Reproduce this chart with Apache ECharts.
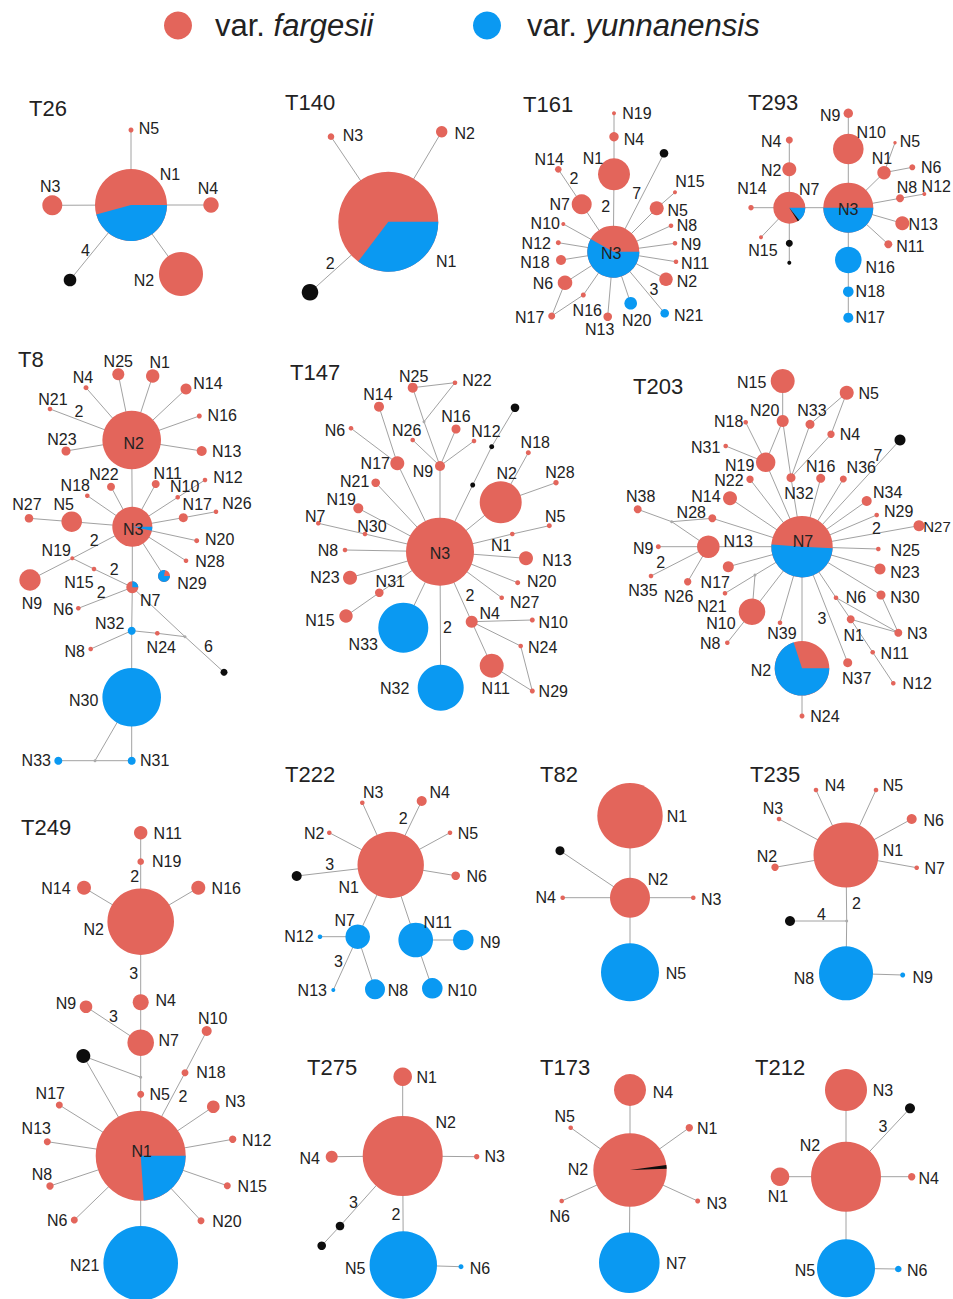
<!DOCTYPE html>
<html>
<head>
<meta charset="utf-8">
<script src="https://cdn.jsdelivr.net/npm/echarts@6/dist/echarts.min.js"></script>
<style>
  html, body { margin: 0; padding: 0; background: #ffffff; }
  #chart { width: 953px; height: 1299px; }
</style>
</head>
<body>
<div id="chart"></div>
<script>
// ---------------------------------------------------------------
// Haplotype networks of 14 loci, two varieties.
// Node record: [id, x, y, size, share]
//   share: 'f' fargesii, 'y' yunnanensis, 'm' missing haplotype,
//          'v' median vector, or [fargesii, yunnanensis, missing] fractions
// Link record: [from, to, mutationSteps]
// ---------------------------------------------------------------
const networkNames = ['T26', 'T140', 'T161', 'T293', 'T8', 'T147', 'T203',
  'T249', 'T222', 'T82', 'T235', 'T275', 'T173', 'T212'];
const varieties = ['fargesii', 'yunnanensis'];

const T26_nodes = [
  ['N1', 131, 205, 36, [0.542, 0.458, 0]], ['N2', 181, 274, 22, 'f'],
  ['N3', 52.3, 205.3, 10, 'f'], ['N4', 211, 205, 7.7, 'f'],
  ['N5', 131, 130, 2.5, 'f'], ['m1', 70, 280, 6.3, 'm']
];
const T26_links = [['N1', 'N5'], ['N1', 'N3'], ['N1', 'N4'], ['N1', 'N2'], ['N1', 'm1', 4]];

const T140_nodes = [
  ['N1', 388.3, 221.7, 50, [0.647, 0.353, 0]], ['N2', 441.7, 131.7, 5.7, 'f'],
  ['N3', 331, 136.7, 3.3, 'f'], ['m1', 310, 292.3, 8.3, 'm']
];
const T140_links = [['N1', 'N2'], ['N1', 'N3'], ['N1', 'm1', 2]];

const T161_nodes = [
  ['N1', 614, 174.3, 16, 'f'], ['N2', 666, 279.3, 6.7, 'f'],
  ['N3', 613.3, 251.7, 26, [0.419, 0.581, 0]], ['N4', 614, 136.7, 4.7, 'f'],
  ['N5', 656.7, 208.3, 7, 'f'], ['N6', 565, 282.7, 7.3, 'f'],
  ['N7', 581.7, 204.3, 10, 'f'], ['N8', 671, 225.7, 2.3, 'f'],
  ['N9', 675, 243.3, 2.3, 'f'], ['N10', 563.3, 224, 2, 'f'],
  ['N11', 676, 261.7, 2.3, 'f'], ['N12', 558.3, 242.7, 2.5, 'f'],
  ['N13', 607.7, 316.7, 4.3, 'f'], ['N14', 558.3, 169.3, 3.3, 'f'],
  ['N15', 675, 192.3, 2, 'f'], ['N16', 583.3, 295, 2.5, 'f'],
  ['N17', 551.7, 316, 3.5, 'f'], ['N18', 561, 260, 5, 'f'],
  ['N19', 614, 113.3, 2, 'f'], ['N20', 630.7, 303.3, 6.3, 'y'],
  ['N21', 664.7, 313.3, 4.3, 'y'], ['m1', 664, 153.3, 4.3, 'm']
];
const T161_links = [
  ['N3', 'N1', 2], ['N1', 'N4'], ['N4', 'N19'], ['N3', 'N7'], ['N7', 'N14', 2],
  ['N3', 'm1', 7], ['N3', 'N5'], ['N5', 'N15'], ['N3', 'N8'], ['N3', 'N9'],
  ['N3', 'N11'], ['N3', 'N2'], ['N3', 'N21', 3], ['N3', 'N20'], ['N3', 'N13'],
  ['N3', 'N16'], ['N16', 'N17'], ['N3', 'N6'], ['N6', 'N17'], ['N3', 'N18'],
  ['N3', 'N12'], ['N3', 'N10']
];

const T293_nodes = [
  ['N1', 884, 172.7, 6.7, 'f'], ['N2', 789.3, 169.3, 7, 'f'],
  ['N3', 848.3, 207.7, 25, [0.5, 0.5, 0]], ['N4', 789.3, 140, 3.5, 'f'],
  ['N5', 895, 142.7, 1.7, 'f'], ['N6', 912.3, 167.3, 3, 'f'],
  ['N7', 789.3, 207.7, 16, [0.839, 0.144, 0.017]], ['N8', 900, 198.3, 4, 'f'],
  ['N9', 848.3, 113.3, 4.7, 'f'], ['N10', 848.3, 149, 15.3, 'f'],
  ['N11', 888.3, 244.3, 4, 'f'], ['N12', 924.3, 194, 2, 'f'],
  ['N13', 902.3, 223.3, 7, 'f'], ['N14', 751, 207.7, 2.7, 'f'],
  ['N15', 761, 237.3, 2, 'f'], ['N16', 848.3, 260, 13.3, 'y'],
  ['N17', 848.3, 317.7, 5, 'y'], ['N18', 848.3, 291.7, 5.3, 'y'],
  ['m1', 789.3, 243.3, 3.5, 'm'], ['m2', 789.3, 262.7, 2, 'm']
];
const T293_links = [
  ['N3', 'N10'], ['N10', 'N9'], ['N3', 'N16'], ['N16', 'N18'], ['N18', 'N17'],
  ['N3', 'N1'], ['N1', 'N5'], ['N1', 'N6'], ['N3', 'N8'], ['N8', 'N12'],
  ['N3', 'N13'], ['N3', 'N11'], ['N3', 'N7'], ['N7', 'N2'], ['N2', 'N4'],
  ['N7', 'N14'], ['N7', 'N15'], ['N7', 'm1'], ['m1', 'm2']
];

const T8_nodes = [
  ['N1', 152.7, 376, 6.7, 'f'], ['N2', 131.7, 440, 29.3, 'f'],
  ['N3', 132.3, 526.7, 20, [0.967, 0.033, 0]], ['N4', 86, 387.7, 2.5, 'f'],
  ['N5', 71.7, 521.7, 10.3, 'f'], ['N6', 78.3, 608.3, 2.3, 'f'],
  ['N7', 132.3, 587.3, 6, [0.75, 0.25, 0]], ['N8', 90.7, 649, 2.3, 'f'],
  ['N9', 30, 580, 10.7, 'f'], ['N10', 177.7, 497.3, 2.3, 'f'],
  ['N11', 155.7, 484, 4, 'f'], ['N12', 205, 480, 2.3, 'f'],
  ['N13', 201.7, 451, 5, 'f'], ['N14', 186, 389, 5.5, 'f'],
  ['N15', 94, 569, 2.3, 'f'], ['N16', 199.3, 416, 2.5, 'f'],
  ['N17', 183.3, 517.7, 4.5, 'f'], ['N18', 87.3, 495.7, 2.3, 'f'],
  ['N19', 72.3, 558.3, 2, 'f'], ['N20', 196.7, 540.7, 2.5, 'f'],
  ['N21', 50, 409, 2.3, 'f'], ['N22', 111, 486.7, 4, 'f'],
  ['N23', 66, 451, 4.5, 'f'], ['N24', 157.3, 633.3, 2.3, 'f'],
  ['N25', 118.3, 374.3, 6, 'f'], ['N26', 216, 511.7, 2.3, 'f'],
  ['N27', 29, 518.3, 4.3, 'f'], ['N28', 186, 560.7, 2.3, 'f'],
  ['N29', 164, 576, 6, [0.22, 0.78, 0]], ['N30', 131.7, 697.3, 29.3, 'y'],
  ['N31', 131.7, 760.7, 4, 'y'], ['N32', 131.7, 630.7, 4, 'y'],
  ['N33', 58.3, 760.7, 4, 'y'], ['m1', 224, 672.3, 3.5, 'm'],
  ['v1', 95, 760.7, 1.5, 'v'], ['v2', 185, 636.7, 1.5, 'v']
];
const T8_links = [
  ['N2', 'N25'], ['N2', 'N1'], ['N2', 'N14'], ['N2', 'N16'], ['N2', 'N13'],
  ['N2', 'N23'], ['N2', 'N21', 2], ['N2', 'N4'], ['N2', 'N3'],
  ['N3', 'N22'], ['N3', 'N18'], ['N3', 'N11'], ['N3', 'N10'], ['N10', 'N12'],
  ['N3', 'N17'], ['N17', 'N26'], ['N3', 'N20'], ['N3', 'N28'], ['N3', 'N29'],
  ['N3', 'N5'], ['N5', 'N27'], ['N3', 'N19', 2], ['N19', 'N9'], ['N19', 'N15'],
  ['N15', 'N7', 2], ['N3', 'N7'], ['N7', 'N6', 2], ['N7', 'N32'], ['N32', 'N8'],
  ['N32', 'N24'], ['N24', 'v2'], ['N7', 'v2'], ['v2', 'm1', 6], ['N32', 'N30'],
  ['N30', 'N31'], ['N31', 'v1'], ['v1', 'N33'], ['v1', 'N30']
];

const T147_nodes = [
  ['N1', 512.3, 534, 2.3, 'f'], ['N2', 500.7, 502.3, 21, 'f'],
  ['N3', 440, 551.7, 34, 'f'], ['N4', 471.7, 621.7, 6, 'f'],
  ['N5', 549.3, 525.7, 2.5, 'f'], ['N6', 351, 428.3, 2.3, 'f'],
  ['N7', 318.3, 523.3, 2.3, 'f'], ['N8', 345, 550, 2.3, 'f'],
  ['N9', 440, 466, 5, 'f'], ['N10', 532.3, 620, 2.5, 'f'],
  ['N11', 491.7, 665.7, 12, 'f'], ['N12', 474, 441, 2.3, 'f'],
  ['N13', 526, 558.3, 7, 'f'], ['N14', 379, 406.7, 5, 'f'],
  ['N15', 346, 616, 6.7, 'f'], ['N16', 456, 429, 4.5, 'f'],
  ['N17', 397.3, 463.3, 7, 'f'], ['N18', 528.3, 452.7, 2.5, 'f'],
  ['N19', 358.3, 508.3, 5, 'f'], ['N20', 517.7, 582.7, 2.5, 'f'],
  ['N21', 375.7, 482.7, 4.3, 'f'], ['N22', 455, 382.7, 2.3, 'f'],
  ['N23', 350, 577.7, 7, 'f'], ['N24', 520.7, 646, 2.3, 'f'],
  ['N25', 412.7, 387.7, 5, 'f'], ['N26', 412.7, 440, 2.3, 'f'],
  ['N27', 501.7, 597.7, 2.3, 'f'], ['N28', 556, 482.7, 2.7, 'f'],
  ['N29', 532.3, 691, 2.5, 'f'], ['N30', 365, 534, 2.3, 'f'],
  ['N31', 379.3, 592.7, 4.3, 'f'], ['N32', 440.7, 687.7, 23, 'y'],
  ['N33', 403.3, 627.7, 25, 'y'], ['m1', 472.7, 485, 2.5, 'm'],
  ['m2', 491.7, 446.7, 2.5, 'm'], ['m3', 515, 407.7, 4.3, 'm'],
  ['v1', 424, 421.7, 1.5, 'v']
];
const T147_links = [
  ['N3', 'N9'], ['N9', 'N16'], ['N9', 'N12'], ['N9', 'N26'], ['N9', 'v1'],
  ['v1', 'N25'], ['v1', 'N22'], ['N25', 'N22'], ['N3', 'N17'], ['N17', 'N14'],
  ['N17', 'N6'], ['N3', 'N21'], ['N3', 'N19'], ['N3', 'N30'], ['N30', 'N7'],
  ['N3', 'N8'], ['N3', 'N23'], ['N3', 'N31'], ['N31', 'N15'], ['N3', 'N33'],
  ['N3', 'N32', 2], ['N3', 'N4', 2], ['N4', 'N10'], ['N4', 'N24'], ['N4', 'N11'],
  ['N11', 'N29'], ['N24', 'N29'], ['N3', 'N27'], ['N3', 'N20'], ['N3', 'N13'],
  ['N3', 'N1'], ['N1', 'N5'], ['N3', 'N2'], ['N2', 'N18'], ['N2', 'N28'],
  ['N3', 'm1'], ['m1', 'm2'], ['m2', 'm3']
];

const T203_nodes = [
  ['N1', 850.7, 619.3, 4, 'f'], ['N2', 802, 668.3, 27.3, [0.3, 0.7, 0]],
  ['N3', 898.3, 632.7, 4, 'f'], ['N4', 831, 434.3, 3.7, 'f'],
  ['N5', 846.7, 392.7, 7, 'f'], ['N6', 836, 597.7, 2.3, 'f'],
  ['N7', 802, 546.7, 30.7, [0.497, 0.503, 0]], ['N8', 727.3, 642.7, 2.3, 'f'],
  ['N9', 658.3, 546.7, 2.5, 'f'], ['N10', 752, 611.7, 13.3, 'f'],
  ['N11', 872.7, 652.3, 2.3, 'f'], ['N12', 893.3, 683.3, 2.3, 'f'],
  ['N13', 708.3, 546.7, 11.3, 'f'], ['N14', 730, 498.3, 7, 'f'],
  ['N15', 782.7, 381, 12, 'f'], ['N16', 820.7, 478.3, 4.5, 'f'],
  ['N17', 728.3, 566.7, 5.5, 'f'], ['N18', 745.7, 422.3, 2.3, 'f'],
  ['N19', 765.7, 462.3, 9.7, 'f'], ['N20', 782.7, 421, 6, 'f'],
  ['N21', 725, 593.3, 2.3, 'f'], ['N22', 750, 479.3, 3.7, 'f'],
  ['N23', 880, 569, 5.5, 'f'], ['N24', 802, 716, 2.5, 'f'],
  ['N25', 878.3, 549, 2.3, 'f'], ['N26', 687.7, 581.7, 3.7, 'f'],
  ['N27', 919, 525.7, 5.5, 'f'], ['N28', 712.3, 518.3, 4, 'f'],
  ['N29', 876.7, 515, 2.3, 'f'], ['N30', 881, 595, 4.5, 'f'],
  ['N31', 725.7, 446, 2.3, 'f'], ['N32', 791, 477.7, 4.5, 'f'],
  ['N33', 810, 424.3, 4.5, 'f'], ['N34', 866.7, 501, 5, 'f'],
  ['N35', 651, 576, 2.3, 'f'], ['N36', 843.3, 479, 3.5, 'f'],
  ['N37', 847.7, 662.7, 4.5, 'f'], ['N38', 637.7, 509.3, 4, 'f'],
  ['N39', 780, 622.7, 2.3, 'f'], ['m1', 900, 440, 5.5, 'm'],
  ['v1', 755, 575, 1.5, 'v'], ['v2', 671.7, 521.7, 1.5, 'v']
];
const T203_links = [
  ['N15', 'N20'], ['N20', 'N19'], ['N19', 'N7'], ['N18', 'N19'], ['N31', 'N19'],
  ['N20', 'N32'], ['N32', 'N7'], ['N32', 'N33'], ['N33', 'N5'], ['N32', 'N4'],
  ['N4', 'N5'], ['N7', 'N16'], ['N7', 'N36'], ['N7', 'm1', 7], ['N7', 'N34'],
  ['N7', 'N29'], ['N7', 'N27', 2], ['N7', 'N25'], ['N7', 'N23'], ['N7', 'N30'],
  ['N30', 'N3'], ['N7', 'N6'], ['N6', 'N1'], ['N1', 'N11'], ['N11', 'N12'],
  ['N1', 'N3'], ['N6', 'N3'], ['N7', 'N37', 3], ['N7', 'N2'], ['N2', 'N24'],
  ['N7', 'N39'], ['N7', 'v1'], ['v1', 'N21'], ['v1', 'N10'], ['N7', 'N10'],
  ['N10', 'N8'], ['N7', 'N17'], ['N7', 'N13'], ['N13', 'N9'], ['N13', 'N35', 2],
  ['N13', 'N26'], ['v2', 'N13'], ['v2', 'N38'], ['v2', 'N28'], ['N28', 'N7'],
  ['N7', 'N14'], ['N7', 'N22']
];

const T249_nodes = [
  ['N1', 140.7, 1155.7, 45, [0.761, 0.239, 0]], ['N2', 140.7, 921.7, 33.3, 'f'],
  ['N3', 213.3, 1106.7, 6.3, 'f'], ['N4', 140.7, 1002.3, 8, 'f'],
  ['N5', 140.7, 1094.3, 3.5, 'f'], ['N6', 74.3, 1220, 3.5, 'f'],
  ['N7', 140.7, 1042.7, 13.3, 'f'], ['N8', 50, 1186, 3.7, 'f'],
  ['N9', 86, 1006.7, 6.3, 'f'], ['N10', 206.7, 1031, 5, 'f'],
  ['N11', 140.7, 832.7, 6.7, 'f'], ['N12', 232.7, 1139.3, 3.7, 'f'],
  ['N13', 47.3, 1141.7, 3.5, 'f'], ['N14', 84, 887.7, 7, 'f'],
  ['N15', 227.3, 1185.7, 3.5, 'f'], ['N16', 198.3, 887.7, 7, 'f'],
  ['N17', 59.3, 1105, 3.5, 'f'], ['N18', 185, 1072.7, 3.5, 'f'],
  ['N19', 140.7, 861.7, 3.3, 'f'], ['N20', 201, 1220.7, 3.5, 'f'],
  ['N21', 140.7, 1263.3, 37.3, 'y'], ['m1', 83.3, 1056, 7, 'm'],
  ['v1', 140.7, 1077.3, 1.5, 'v']
];
const T249_links = [
  ['N11', 'N19'], ['N19', 'N2', 2], ['N2', 'N14'], ['N2', 'N16'], ['N2', 'N4', 3],
  ['N4', 'N7'], ['N7', 'N9', 3], ['N7', 'v1'], ['v1', 'm1'], ['v1', 'N5'],
  ['N5', 'N1'], ['m1', 'N1'], ['N1', 'N18', 2], ['N18', 'N10'], ['N1', 'N3'],
  ['N1', 'N12'], ['N1', 'N15'], ['N1', 'N20'], ['N1', 'N6'], ['N1', 'N8'],
  ['N1', 'N13'], ['N1', 'N17'], ['N1', 'N21']
];

const T222_nodes = [
  ['N1', 390.7, 865, 33.2, 'f'], ['N2', 329.3, 832.7, 2.3, 'f'],
  ['N3', 362.3, 802.7, 2.3, 'f'], ['N4', 421.7, 801, 5, 'f'],
  ['N5', 450, 832.7, 2.3, 'f'], ['N6', 455.7, 875.7, 4.3, 'f'],
  ['N7', 357.7, 936.7, 12.3, 'y'], ['N8', 375, 989.3, 10, 'y'],
  ['N9', 463.3, 940, 10.3, 'y'], ['N10', 432.3, 988.3, 10.3, 'y'],
  ['N11', 415.7, 940, 17.3, 'y'], ['N12', 320, 936.7, 2.3, 'y'],
  ['N13', 333.3, 990, 2, 'y'], ['m1', 296.7, 876, 5, 'm']
];
const T222_links = [
  ['N1', 'N2'], ['N1', 'N3'], ['N1', 'N4', 2], ['N1', 'N5'], ['N1', 'N6'],
  ['N1', 'm1', 3], ['N1', 'N7'], ['N1', 'N11'], ['N7', 'N12'], ['N7', 'N13', 3],
  ['N7', 'N8'], ['N11', 'N9'], ['N11', 'N10']
];

const T82_nodes = [
  ['N1', 630, 815.7, 32.7, 'f'], ['N2', 630, 897.7, 20, 'f'],
  ['N3', 693.3, 897.7, 2.3, 'f'], ['N4', 562.7, 897.7, 2.3, 'f'],
  ['N5', 630, 972.3, 29, 'y'], ['m1', 560, 850.7, 4.5, 'm']
];
const T82_links = [['N1', 'N2'], ['N2', 'N5'], ['N2', 'N3'], ['N2', 'N4'], ['N2', 'm1']];

const T235_nodes = [
  ['N1', 846, 855, 32.5, 'f'], ['N2', 775, 867.3, 3.7, 'f'],
  ['N3', 779, 819, 2.3, 'f'], ['N4', 816, 790, 2.3, 'f'],
  ['N5', 876, 790, 2.3, 'f'], ['N6', 911.7, 819, 5, 'f'],
  ['N7', 916.7, 867.7, 2.3, 'f'], ['N8', 846, 973.3, 27, 'y'],
  ['N9', 902.7, 975, 2.5, 'y'], ['m1', 790, 921, 5, 'm'],
  ['v1', 846.7, 921, 1.5, 'v']
];
const T235_links = [
  ['N1', 'N2'], ['N1', 'N3'], ['N1', 'N4'], ['N1', 'N5'], ['N1', 'N6'], ['N1', 'N7'],
  ['N1', 'v1', 2], ['v1', 'm1', 4], ['v1', 'N8'], ['N8', 'N9']
];

const T275_nodes = [
  ['N1', 402.7, 1076.7, 9.3, 'f'], ['N2', 402.7, 1156, 40, 'f'],
  ['N3', 476.7, 1156.7, 2.7, 'f'], ['N4', 331.7, 1156.7, 6, 'f'],
  ['N5', 403.3, 1265, 33.7, 'y'], ['N6', 461, 1266.7, 2.5, 'y'],
  ['m1', 340, 1226, 4.3, 'm'], ['m2', 321.7, 1245.7, 4.3, 'm']
];
const T275_links = [
  ['N2', 'N1'], ['N2', 'N3'], ['N2', 'N4'], ['N2', 'm1', 3], ['m1', 'm2'],
  ['N2', 'N5', 2], ['N5', 'N6']
];

const T173_nodes = [
  ['N1', 689.3, 1127.7, 3.7, 'f'], ['N2', 630, 1170, 36.7, [0.983, 0, 0.017]],
  ['N3', 697.7, 1201, 2.5, 'f'], ['N4', 630, 1090, 16, 'f'],
  ['N5', 570.7, 1127.7, 2.3, 'f'], ['N6', 561.7, 1201, 2.3, 'f'],
  ['N7', 629.3, 1262.7, 30.3, 'y']
];
const T173_links = [['N2', 'N1'], ['N2', 'N3'], ['N2', 'N4'], ['N2', 'N5'], ['N2', 'N6'], ['N2', 'N7']];

const T212_nodes = [
  ['N1', 780, 1176.7, 9.3, 'f'], ['N2', 846, 1176.7, 35, 'f'],
  ['N3', 846, 1090, 21, 'f'], ['N4', 911.7, 1176.7, 3.7, 'f'],
  ['N5', 846, 1268.3, 29, 'y'], ['N6', 898.3, 1269, 3.3, 'y'],
  ['m1', 910, 1108.3, 5, 'm']
];
const T212_links = [['N2', 'N1'], ['N2', 'N3'], ['N2', 'N4'], ['N2', 'm1', 3], ['N2', 'N5'], ['N5', 'N6']];

// ---------------------------------------------------------------
// Styling: colours, fonts, label placement (pixel offsets from nodes)
// ---------------------------------------------------------------
const COLOR = { f: '#E3655B', y: '#0A99F2', m: '#0d0d0d', v: '#ababab' };
const EDGE_COLOR = '#a2a2a2';
const TEXT_COLOR = '#222222';
const FONT = "'Liberation Sans', Arial, Helvetica, sans-serif";
const LABEL_SIZE = 16;
const TITLE_SIZE = 22;
const LEGEND_SIZE = 31;

const titleAt = {
  T26: [29, 109], T140: [285, 103], T161: [523, 105], T293: [748, 103],
  T8: [18, 360], T147: [290, 373], T203: [633, 387], T249: [21, 828],
  T222: [285, 775], T82: [540, 775], T235: [750, 775], T275: [307, 1068],
  T173: [540, 1068], T212: [755, 1068]
};

// legend entries: icon left edge and gap between icon and text
const legendAt = [[164, 23], [473, 26]];

// first slice (yunnanensis) starts at this angle, clockwise, degrees
const pieStart = { 'T8:N7': 270, 'T203:N7': 3, 'T173:N2': 352 };

const labelShift = {
  T26: { N1: [39, -31], N2: [-37, 6], N3: [-2, -19], N4: [-3, -17], N5: [18, -2] },
  T140: { N1: [58, 40], N2: [23, 2], N3: [22, -1] },
  T161: { N1: [-21, -16], N2: [21, 2], N3: [-2, 2], N4: [20, 3], N5: [21, 2], N6: [-22, 1],
    N7: [-22, 0], N8: [16, 0], N9: [16, 1], N10: [-18, -1], N11: [19, 2], N12: [-22, 1],
    N13: [-8, 13], N14: [-9, -10], N15: [15, -11], N16: [4, 15], N17: [-22, 1], N18: [-26, 2],
    N19: [23, 0], N20: [6, 17], N21: [24, 2] },
  T293: { N1: [-2, -14], N2: [-18, 1], N3: [0, 2], N4: [-18, 1], N5: [15, -1], N6: [19, 0],
    N7: [20, -18], N8: [7, -11], N9: [-18, 2], N10: [23, -17], N11: [22, 2], N12: [12, -8],
    N13: [21, 1], N14: [1, -19], N15: [2, 13], N16: [32, 7], N17: [22, 0], N18: [22, 0] },
  T8: { N1: [7, -14], N2: [2, 3], N3: [1, 3], N4: [-3, -10], N5: [-8, -17], N6: [-15, 1],
    N7: [18, 13], N8: [-16, 2], N9: [2, 23], N10: [7, -11], N11: [12, -11], N12: [23, -3],
    N13: [25, 0], N14: [22, -6], N15: [-15, 13], N16: [23, -1], N17: [14, -13], N18: [-12, -10],
    N19: [-16, -8], N20: [23, -1], N21: [3, -10], N22: [-7, -12], N23: [-4, -12], N24: [4, 14],
    N25: [0, -13], N26: [21, -8], N27: [-2, -14], N28: [24, 1], N29: [28, 7], N30: [-48, 3],
    N31: [23, 0], N32: [-22, -7], N33: [-22, 0] },
  T147: { N1: [-11, 11], N2: [6, -29], N3: [0, 2], N4: [18, -8], N5: [6, -9], N6: [-16, 2],
    N7: [-3, -7], N8: [-17, 0], N9: [-17, 5], N10: [21, 2], N11: [4, 23], N12: [12, -10],
    N13: [31, 2], N14: [-1, -12], N15: [-26, 4], N16: [0, -13], N17: [-22, 0], N18: [7, -10],
    N19: [-17, -9], N20: [24, -1], N21: [-21, -1], N22: [22, -2], N23: [-25, 0], N24: [22, 1],
    N25: [1, -11], N26: [-6, -10], N27: [23, 5], N28: [4, -10], N29: [21, 0], N30: [7, -8],
    N31: [11, -11], N32: [-46, 1], N33: [-40, 17] },
  T203: { N1: [3, 16], N2: [-41, 2], N3: [19, 1], N4: [19, 0], N5: [22, 1], N6: [20, 0],
    N7: [1, -5], N8: [-17, 1], N9: [-15, 2], N10: [-31, 12], N11: [22, 1], N12: [24, 0],
    N13: [30, -5], N14: [-24, -2], N15: [-31, 1], N16: [0, -12], N17: [-13, 16], N18: [-17, -1],
    N19: [-26, 3], N20: [-18, -11], N21: [-13, 13], N22: [-21, 1], N23: [25, 3], N24: [23, 0],
    N25: [27, 1], N26: [-9, 15], N27: [18, 1], N28: [-21, -6], N29: [22, -4], N30: [24, 2],
    N31: [-20, 1], N32: [8, 16], N33: [2, -14], N34: [21, -9], N35: [-8, 14], N36: [18, -12],
    N37: [9, 16], N38: [3, -13], N39: [2, 11] },
  T249: { N1: [1, -4], N2: [-47, 8], N3: [22, -5], N4: [25, -2], N5: [19, 0], N6: [-17, 0],
    N7: [28, -2], N8: [-8, -12], N9: [-20, -3], N10: [6, -13], N11: [27, 1], N12: [24, 1],
    N13: [-11, -13], N14: [-28, 1], N15: [25, 1], N16: [28, 1], N17: [-9, -12], N18: [26, 0],
    N19: [26, 0], N20: [26, 1], N21: [-56, 2] },
  T222: { N1: [-42, 22], N2: [-15, 1], N3: [11, -10], N4: [18, -9], N5: [18, 1], N6: [21, 1],
    N7: [-13, -16], N8: [23, 1], N9: [27, 2], N10: [30, 2], N11: [22, -18], N12: [-21, 0],
    N13: [-21, 0] },
  T82: { N1: [47, 1], N2: [28, -18], N3: [18, 2], N4: [-17, 0], N5: [46, 1] },
  T235: { N1: [47, -5], N2: [-8, -11], N3: [-6, -11], N4: [19, -5], N5: [17, -5], N6: [22, 1],
    N7: [18, 1], N8: [-42, 5], N9: [20, 2] },
  T275: { N1: [24, 1], N2: [43, -34], N3: [18, 0], N4: [-22, 2], N5: [-48, 3], N6: [19, 2] },
  T173: { N1: [18, 1], N2: [-52, -1], N3: [19, 2], N4: [33, 2], N5: [-6, -11], N6: [-2, 15],
    N7: [47, 1] },
  T212: { N1: [-2, 20], N2: [-36, -31], N3: [37, 0], N4: [17, 2], N5: [-41, 2], N6: [19, 1] }
};

// labels drawn a little smaller where they meet the chart's right edge
const labelSize = { 'T203:N27': 15 };

// mutation-step labels: offset from the link midpoint
const stepShift = {
  T26: { 'N1-m1': [-15, 8] },
  T140: { 'N1-m1': [-19, 6] },
  T161: { 'N3-N1': [-8, -7], 'N7-N14': [4, -8], 'N3-m1': [-2, -9], 'N3-N21': [15, 7] },
  T8: { 'N2-N21': [-12, -13], 'N3-N19': [-8, -2], 'N15-N7': [1, -9], 'N7-N6': [-4, -5], 'v2-m1': [4, -8] },
  T147: { 'N3-N32': [7, 8], 'N3-N4': [14, 9] },
  T203: { 'N7-m1': [27, -38], 'N7-N27': [16, -8], 'N7-N37': [-3, 14], 'N13-N35': [-19, 1] },
  T249: { 'N19-N2': [-6, -15], 'N2-N4': [-7, 11], 'N7-N9': [0, -8], 'N1-N18': [20, -18] },
  T222: { 'N1-N4': [-3, -15], 'N1-m1': [-14, -6], 'N7-N13': [-7, -2] },
  T235: { 'N1-v1': [10, 15], 'v1-m1': [3, -7] },
  T275: { 'N2-m1': [-18, 11], 'N2-N5': [-7, 4] },
  T212: { 'N2-m1': [5, -16] }
};

// ---------------------------------------------------------------
// Assemble
// ---------------------------------------------------------------
const networkData = {
  T26: [T26_nodes, T26_links], T140: [T140_nodes, T140_links], T161: [T161_nodes, T161_links],
  T293: [T293_nodes, T293_links], T8: [T8_nodes, T8_links], T147: [T147_nodes, T147_links],
  T203: [T203_nodes, T203_links], T249: [T249_nodes, T249_links], T222: [T222_nodes, T222_links],
  T82: [T82_nodes, T82_links], T235: [T235_nodes, T235_links], T275: [T275_nodes, T275_links],
  T173: [T173_nodes, T173_links], T212: [T212_nodes, T212_links]
};

const nodeItems = [];   // {net, id, share}
const nodeValues = [];  // [x, y, size]
const linkItems = [];   // {text, shift}
const linkValues = [];  // [x1, y1, x2, y2]

networkNames.forEach(function (net) {
  const nodes = networkData[net][0];
  const links = networkData[net][1];
  const byId = {};
  nodes.forEach(function (n) {
    byId[n[0]] = n;
    nodeItems.push({ net: net, id: n[0], share: n[4] });
    nodeValues.push([n[1], n[2], n[3]]);
  });
  links.forEach(function (l) {
    const a = byId[l[0]], b = byId[l[1]];
    const key = l[0] + '-' + l[1];
    linkItems.push({
      text: l[2] ? String(l[2]) : '',
      shift: (stepShift[net] && stepShift[net][key]) || [0, -8]
    });
    linkValues.push([a[1], a[2], b[1], b[2]]);
  });
});

function textEl(x, y, str, size, italic) {
  return {
    type: 'text',
    style: {
      x: x, y: y, text: str,
      fill: TEXT_COLOR,
      font: (italic ? 'italic ' : '') + size + 'px ' + FONT,
      align: 'center', verticalAlign: 'middle',
      textAlign: 'center', textVerticalAlign: 'middle'
    },
    z2: 20
  };
}

function renderLink(params, api) {
  const p1 = api.coord([api.value(0), api.value(1)]);
  const p2 = api.coord([api.value(2), api.value(3)]);
  const item = linkItems[params.dataIndex];
  const children = [{
    type: 'line',
    shape: { x1: p1[0], y1: p1[1], x2: p2[0], y2: p2[1] },
    style: { stroke: EDGE_COLOR, lineWidth: 1, fill: null }
  }];
  if (item.text) {
    children.push(textEl((p1[0] + p2[0]) / 2 + item.shift[0],
      (p1[1] + p2[1]) / 2 + item.shift[1], item.text, LABEL_SIZE));
  }
  return { type: 'group', children: children };
}

function renderNode(params, api) {
  const item = nodeItems[params.dataIndex];
  const c = api.coord([api.value(0), api.value(1)]);
  const r = api.size([api.value(2), 0])[0];
  const share = item.share;
  const children = [];
  if (Array.isArray(share)) {
    children.push({ type: 'circle', shape: { cx: c[0], cy: c[1], r: r }, style: { fill: COLOR.f } });
    let a = (pieStart[item.net + ':' + item.id] || 0) * Math.PI / 180;
    [[share[1], COLOR.y], [share[2], COLOR.m]].forEach(function (s) {
      if (s[0] <= 0) return;
      const b = a + s[0] * Math.PI * 2;
      children.push({
        type: 'sector',
        shape: { cx: c[0], cy: c[1], r0: 0, r: r, startAngle: a, endAngle: b, clockwise: true },
        style: { fill: s[1] }
      });
      a = b;
    });
  } else {
    children.push({ type: 'circle', shape: { cx: c[0], cy: c[1], r: r }, style: { fill: COLOR[share] } });
  }
  const shift = labelShift[item.net] && labelShift[item.net][item.id];
  if (shift) {
    const size = labelSize[item.net + ':' + item.id] || LABEL_SIZE;
    children.push(textEl(c[0] + shift[0], c[1] + shift[1], item.id, size));
  }
  return { type: 'group', children: children };
}

const chart = echarts.init(document.getElementById('chart'), null, { renderer: 'svg' });

const option = {
  backgroundColor: '#ffffff',
  animation: false,
  title: networkNames.map(function (n) {
    return {
      text: n, left: titleAt[n][0], top: titleAt[n][1] - 12, padding: 0,
      textStyle: { fontSize: TITLE_SIZE, fontWeight: 'normal', color: TEXT_COLOR, fontFamily: FONT }
    };
  }),
  legend: varieties.map(function (v, i) {
    return {
      data: [v], left: legendAt[i][0], top: 10,
      itemWidth: 28, itemHeight: 28, icon: 'circle', padding: 0,
      formatter: function (name) { return '{p|}var. {i|' + name + '}'; },
      textStyle: {
        fontSize: LEGEND_SIZE, color: TEXT_COLOR, fontFamily: FONT,
        rich: {
          p: { width: legendAt[i][1] - 5 },
          i: { fontStyle: 'italic', fontSize: LEGEND_SIZE, fontFamily: FONT, color: TEXT_COLOR }
        }
      },
      selectedMode: false
    };
  }),
  grid: { left: 0, right: 0, top: 0, bottom: 0 },
  xAxis: { type: 'value', min: 0, max: 953, show: false },
  yAxis: { type: 'value', min: 0, max: 1299, inverse: true, show: false },
  series: [
    { type: 'scatter', name: varieties[0], data: [], itemStyle: { color: COLOR.f, opacity: 1 } },
    { type: 'scatter', name: varieties[1], data: [], itemStyle: { color: COLOR.y, opacity: 1 } },
    {
      type: 'custom', name: 'links', renderItem: renderLink, data: linkValues,
      clip: false, silent: true, z: 1
    },
    {
      type: 'custom', name: 'haplotypes', renderItem: renderNode, data: nodeValues,
      clip: false, silent: true, z: 2
    }
  ]
};

chart.setOption(option);
</script>
</body>
</html>
